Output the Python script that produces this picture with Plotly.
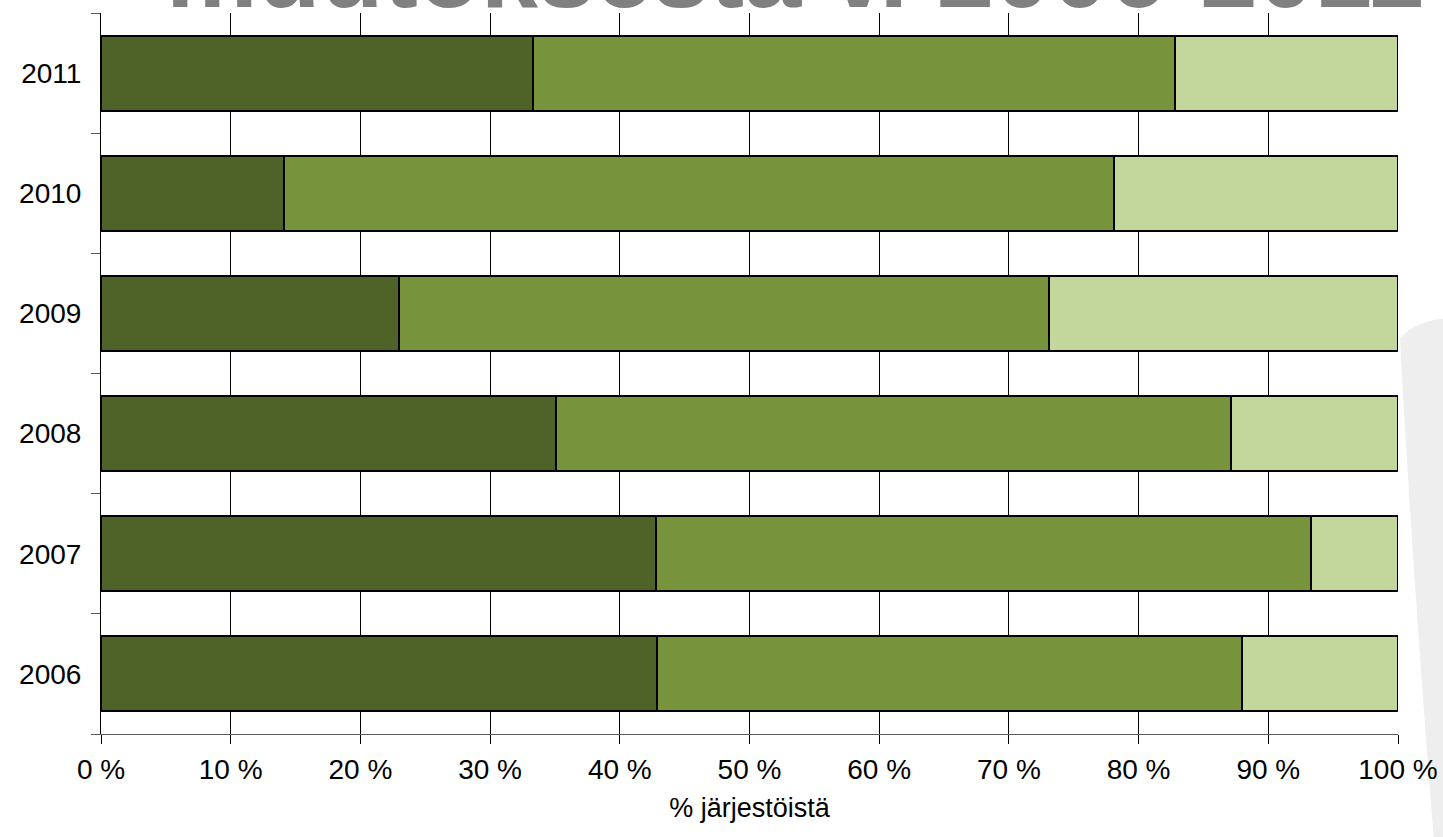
import plotly.graph_objects as go

years = ["2006", "2007", "2008", "2009", "2010", "2011"]
# cumulative boundaries (percent)
dark_vals = [42.9, 42.8, 35.1, 23.0, 14.1, 33.3]
mid_end = [88.0, 93.3, 87.1, 73.1, 78.1, 82.8]
mid_vals = [m - d for m, d in zip(mid_end, dark_vals)]
light_vals = [100 - m for m in mid_end]
series_names = ["Series 1", "Series 2", "Series 3"]
colors = ["#4F6228", "#77933C", "#C3D69B"]
x_ticks = list(range(0, 101, 10))
x_tick_text = [f"{v} %" for v in x_ticks]

fig = go.Figure()
for name, vals, col in zip(series_names, [dark_vals, mid_vals, light_vals], colors):
    fig.add_trace(go.Bar(
        y=years, x=vals, name=name, orientation="h",
        marker=dict(color=col, line=dict(color="#000000", width=2)),
        width=0.625,
    ))

font_family = "Liberation Sans, Arial, sans-serif"

fig.update_layout(
    barmode="stack",
    width=1443, height=837,
    margin=dict(l=101, r=45, t=13, b=103),
    paper_bgcolor="white", plot_bgcolor="white",
    showlegend=False,
    font=dict(family=font_family, size=28, color="#000000"),
    xaxis=dict(
        range=[0, 100], tickvals=x_ticks, ticktext=x_tick_text,
        showgrid=True, gridcolor="#000000", gridwidth=1,
        showline=True, linecolor="#595959", linewidth=1,
        ticks="outside", ticklen=9, tickcolor="#000000", tickwidth=1,
        tickfont=dict(size=28), zeroline=False, automargin=False,
        ticklabelstandoff=1,
        title=dict(text="% järjestöistä", font=dict(size=27), standoff=14),
    ),
    yaxis=dict(
        type="category", categoryorder="array", categoryarray=years,
        range=[-0.5, 5.5], automargin=False,
        showline=True, linecolor="#000000", linewidth=1,
        ticks="outside", ticklen=9, tickcolor="#595959", tickwidth=1,
        tickson="boundaries", showgrid=False,
        tickfont=dict(size=28), ticklabelstandoff=13,
    ),
)

# clipped title text at the very top of the slide
fig.add_annotation(
    text="<b>muutoksesta v. 2006-2011</b>",
    xref="paper", yref="paper", x=0.535, y=1.0,
    xanchor="center", yanchor="bottom", showarrow=False,
    font=dict(family=font_family, size=103, color="#808080"),
    yshift=-18,
)

# faint decorative arc on the right
fig.add_shape(
    type="path", xref="paper", yref="paper", layer="below",
    path="M 1.0015 0.549 Q 1.02 0.585 1.06 0.574 L 1.06 -0.2 L 1.03 -0.2 "
         "Q 1.012 0.2 1.0015 0.549 Z",
    fillcolor="#EEEEEE", line=dict(width=0),
)

fig.write_html("out.html", post_script="document.body.style.margin='0';",
               config={"displayModeBar": False})
